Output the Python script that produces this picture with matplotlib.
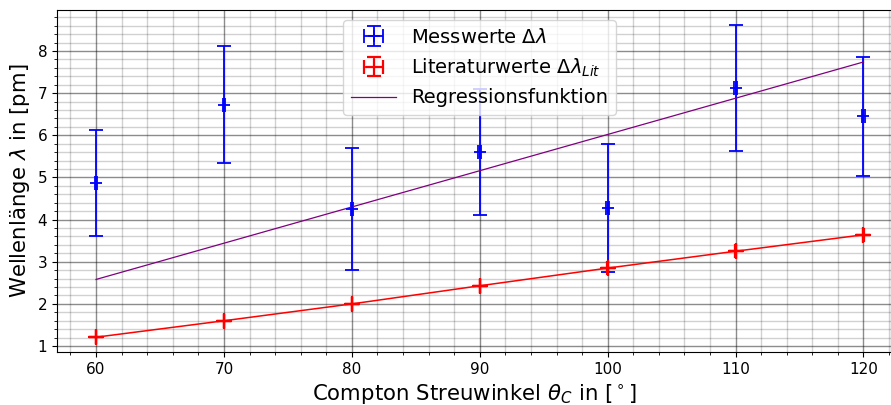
import matplotlib
matplotlib.use("Agg")
import matplotlib.pyplot as plt
import numpy as np
from matplotlib.ticker import MultipleLocator

# Streuwinkel in Grad
winkel = [60, 70, 80, 90, 100, 110, 120]

# gemessene Wellenlaengenverschiebung in pm mit Fehler
mess = [4.87, 6.73, 4.25, 5.60, 4.28, 7.12, 6.45]
mess_err = [1.26, 1.38, 1.44, 1.50, 1.52, 1.50, 1.41]
winkel_err = [0.1] * 7

# Literaturwerte in pm (Fehler praktisch null)
lit = [1.21, 1.60, 2.00, 2.43, 2.85, 3.25, 3.64]
lit_err = [0.005] * 7
lit_winkel_err = [0.02] * 7

# Regressionsgerade an den Randpunkten
reg_x = [60, 120]
reg_y = [2.58, 7.74]

fig = plt.figure(figsize=(8.91, 4.05), dpi=100)
ax = fig.add_axes([0.064, 0.131, 0.936, 0.844])

ax.errorbar(winkel, mess, yerr=mess_err, xerr=winkel_err, fmt="+",
            color="blue", ms=8, mew=1.3, elinewidth=1.3, capsize=5,
            capthick=1.3, label=r"Messwerte $\Delta\lambda$", zorder=3)
ax.plot(winkel, lit, color="red", lw=1.1, zorder=3)
ax.errorbar(winkel, lit, yerr=lit_err, xerr=lit_winkel_err, fmt="+",
            color="red", ms=12, mew=1.6, elinewidth=1.3, capsize=5,
            capthick=1.3, label=r"Literaturwerte $\Delta\lambda_{Lit}$",
            zorder=3)
ax.plot(reg_x, reg_y, color="purple", lw=0.9, label="Regressionsfunktion",
        zorder=3)

ax.set_xlim(56.95, 122.15)
ax.set_ylim(0.86, 8.97)
ax.xaxis.set_major_locator(MultipleLocator(10))
ax.xaxis.set_minor_locator(MultipleLocator(2))
ax.yaxis.set_major_locator(MultipleLocator(1))
ax.yaxis.set_minor_locator(MultipleLocator(0.2))
ax.grid(which="major", color="black", alpha=0.45, lw=1.0)
ax.grid(which="minor", color="black", alpha=0.18, lw=1.0)
ax.set_axisbelow(True)
ax.tick_params(labelsize=11)

ax.set_xlabel(r"Compton Streuwinkel $\theta_C$ in [$^\circ$]", fontsize=15.3)
ax.set_ylabel(r"Wellenlänge $\lambda$ in [pm]", fontsize=15.3)

handles, labels = ax.get_legend_handles_labels()
order = [labels.index(l) for l in (r"Messwerte $\Delta\lambda$",
                                   r"Literaturwerte $\Delta\lambda_{Lit}$",
                                   "Regressionsfunktion")]
ax.legend([handles[i] for i in order], [labels[i] for i in order],
          loc="upper center", fontsize=14, handlelength=2.3,
          bbox_to_anchor=(0.507, 1.0))

fig.savefig("out.png", dpi=100)
